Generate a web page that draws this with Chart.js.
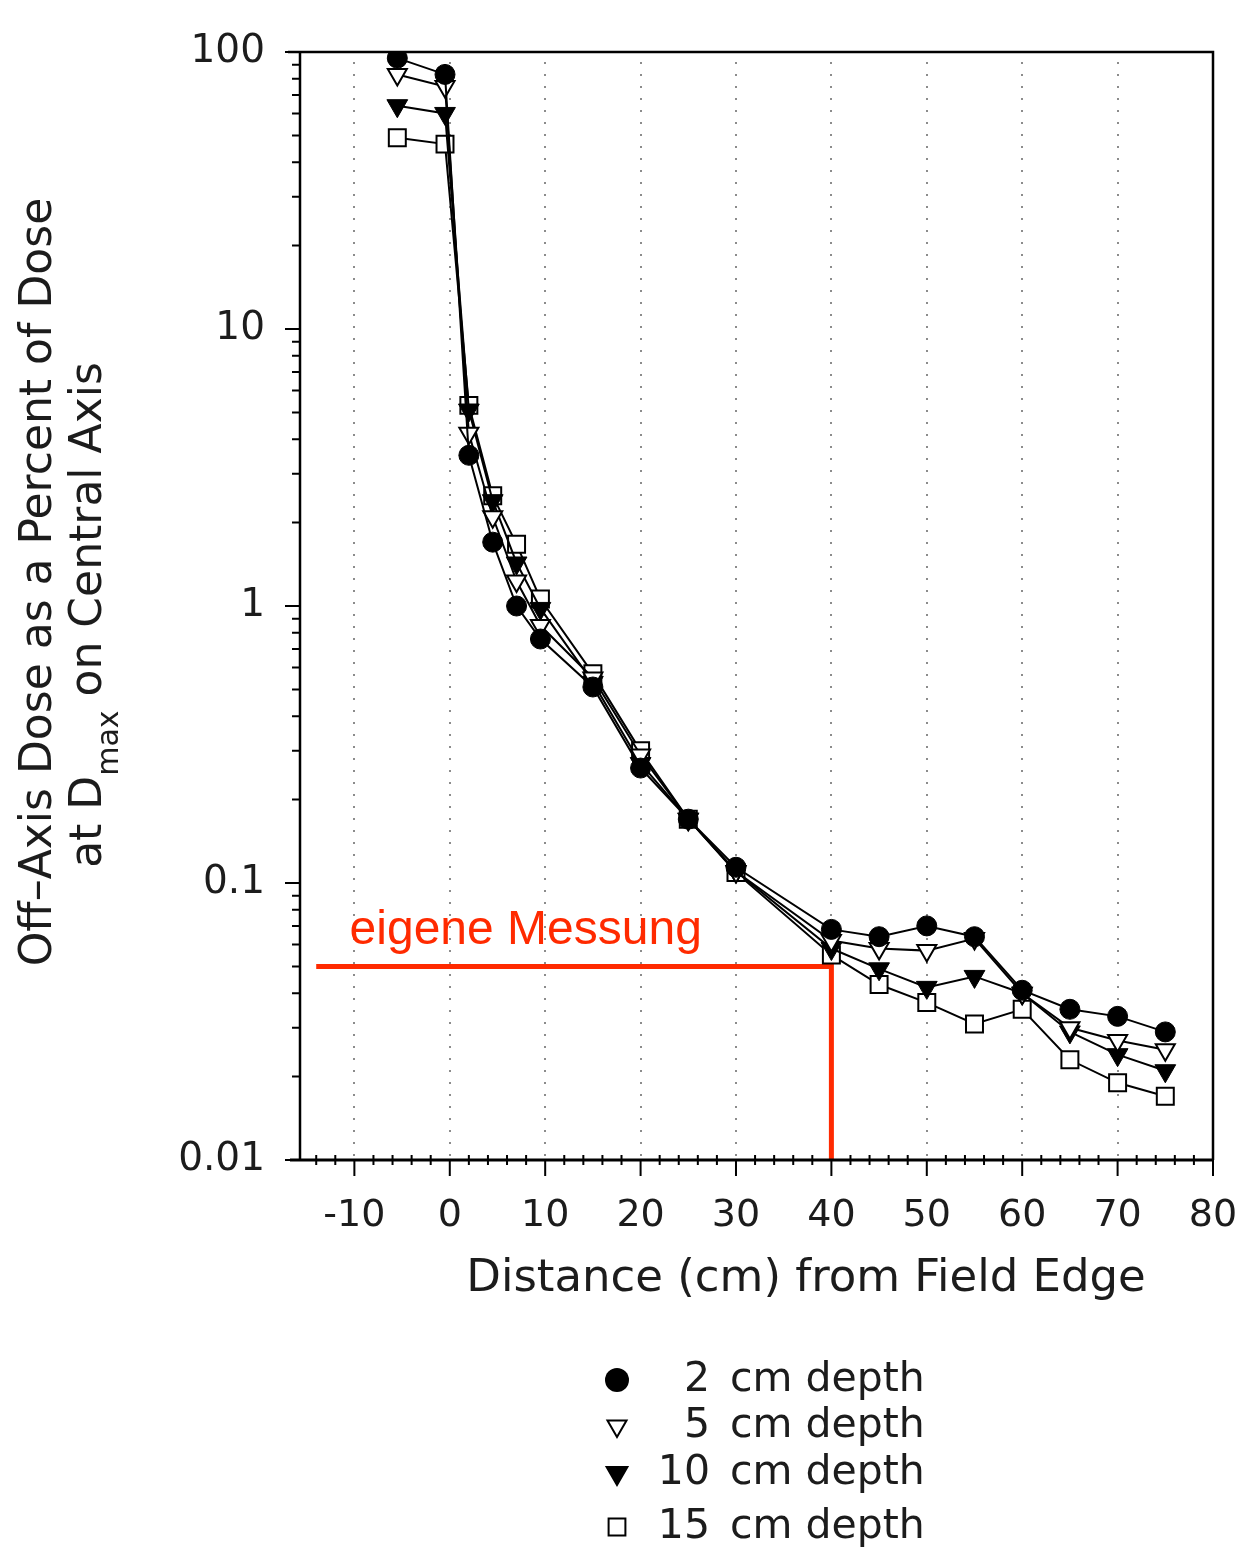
<!DOCTYPE html>
<html>
<head>
<meta charset="utf-8">
<title>Off-Axis Dose</title>
<script src="https://cdn.jsdelivr.net/npm/chart.js@4/dist/chart.umd.min.js"></script>
<style>
  html, body { margin: 0; padding: 0; background: #ffffff; }
  #wrap { width: 1241px; height: 1549px; }
</style>
</head>
<body>
<div id="wrap"><canvas id="doseChart"></canvas></div>
<script>
// ===== Data =====
const distance = [-5.5, -0.5, 2, 4.5, 7, 9.5, 15, 20, 25, 30, 40, 45, 50, 55, 60, 65, 70, 75];
const dose2cm  = [95, 83, 3.5, 1.7, 1.0, 0.76, 0.51, 0.26, 0.17, 0.114, 0.068, 0.064, 0.070, 0.064, 0.041, 0.035, 0.033, 0.029];
const dose5cm  = [83, 75, 4.2, 2.1, 1.23, 0.85, 0.55, 0.29, 0.17, 0.110, 0.062, 0.058, 0.057, 0.063, 0.040, 0.030, 0.027, 0.025];
const dose10cm = [64, 60, 5.1, 2.4, 1.43, 0.98, 0.53, 0.27, 0.17, 0.110, 0.058, 0.049, 0.042, 0.046, 0.040, 0.029, 0.024, 0.021];
const dose15cm = [49, 46.5, 5.3, 2.5, 1.67, 1.06, 0.57, 0.30, 0.17, 0.109, 0.055, 0.043, 0.037, 0.031, 0.035, 0.023, 0.019, 0.017];

const xTicks = [-10, 0, 10, 20, 30, 40, 50, 60, 70, 80];
const yDecades = [0.01, 0.1, 1, 10, 100];
const yTickLabels = ["0.01", "0.1", "1", "10", "100"];

const seriesNames = ["2 cm depth", "5 cm depth", "10 cm depth", "15 cm depth"];

// own measurement marker (red)
const ownX = [-14, 40, 40];
const ownY = [0.05, 0.05, 0.01];
const ownLabel = "eigene Messung";

const FONT = "'DejaVu Sans', 'Noto Sans', sans-serif";
const INK = "#1c1c1c";
const RED = "#ff2a00";

function pts(ys) {
    return ys.map((y, i) => ({ x: distance[i], y: y }));
}

function drawMarker(ctx, kind, x, y, r) {
    ctx.save();
    ctx.lineWidth = 2;
    ctx.strokeStyle = "#000";
    ctx.beginPath();
    if (kind === "circle") {
        ctx.arc(x, y, r, 0, Math.PI * 2);
        ctx.fillStyle = "#000";
        ctx.fill();
    } else if (kind === "openTri" || kind === "fillTri") {
        const h = r * 0.866;
        ctx.moveTo(x - h, y - r / 2);
        ctx.lineTo(x + h, y - r / 2);
        ctx.lineTo(x, y + r);
        ctx.closePath();
        ctx.fillStyle = kind === "fillTri" ? "#000" : "#fff";
        ctx.fill();
        ctx.stroke();
    } else {
        ctx.rect(x - r * 0.7, y - r * 0.7, r * 1.4, r * 1.4);
        ctx.fillStyle = "#fff";
        ctx.fill();
        ctx.stroke();
    }
    ctx.restore();
}

// ===== Dotted grid, frame, tick marks, titles, legend =====
const decorPlugin = {
    id: "decor",
    beforeDatasetsDraw(chart) {
        const ctx = chart.ctx;
        const a = chart.chartArea;
        const xs = chart.scales.x;
        ctx.save();
        ctx.strokeStyle = "rgba(0,0,0,0.45)";
        ctx.lineWidth = 2;
        ctx.setLineDash([2, 10]);
        ctx.beginPath();
        xTicks.forEach(v => {
            if (v === 80) return;
            const px = Math.round(xs.getPixelForValue(v));
            ctx.moveTo(px, a.top + 10);
            ctx.lineTo(px, a.bottom);
        });
        ctx.stroke();
        ctx.restore();
    },
    afterDraw(chart) {
        const ctx = chart.ctx;
        const a = chart.chartArea;
        const xs = chart.scales.x;
        const ys = chart.scales.y;

        ctx.save();
        ctx.strokeStyle = "#000";

        // frame
        ctx.lineWidth = 2.5;
        ctx.beginPath();
        ctx.moveTo(a.left - 12, a.top);
        ctx.lineTo(a.right, a.top);
        ctx.lineTo(a.right, a.bottom);
        ctx.moveTo(a.left, a.top);
        ctx.lineTo(a.left, a.bottom);
        ctx.stroke();
        ctx.lineWidth = 3;
        ctx.beginPath();
        ctx.moveTo(a.left - 10, a.bottom);
        ctx.lineTo(a.right, a.bottom);
        ctx.stroke();

        // y tick marks (log decades + minor)
        ctx.lineWidth = 2;
        ctx.beginPath();
        ys.ticks.forEach(t => {
            const py = ys.getPixelForValue(t.value);
            const len = t.major ? 15 : 8;
            ctx.moveTo(a.left - len, py);
            ctx.lineTo(a.left, py);
        });
        // x tick marks
        for (let v = -14; v <= 80; v += 2) {
            const px = xs.getPixelForValue(v);
            if (v % 10 === 0) {
                ctx.moveTo(px, a.bottom);
                ctx.lineTo(px, a.bottom + 16);
            } else {
                ctx.moveTo(px, a.bottom - 5);
                ctx.lineTo(px, a.bottom + 5);
            }
        }
        ctx.stroke();

        // x title
        ctx.fillStyle = INK;
        ctx.font = "45px " + FONT;
        ctx.textAlign = "center";
        ctx.textBaseline = "middle";
        ctx.fillText("Distance (cm) from Field Edge", 806, 1279);

        // y title, two lines rotated
        ctx.save();
        ctx.translate(40, 582);
        ctx.rotate(-Math.PI / 2);
        ctx.font = "44px " + FONT;
        ctx.textAlign = "center";
        ctx.textBaseline = "middle";
        ctx.fillText("Off\u2013Axis Dose as a Percent of Dose", 0, 0);
        ctx.restore();

        ctx.save();
        ctx.translate(90, 615);
        ctx.rotate(-Math.PI / 2);
        ctx.textBaseline = "middle";
        ctx.textAlign = "left";
        const p1 = "at D", p2 = "max", p3 = " on Central Axis";
        ctx.font = "44px " + FONT;
        const w1 = ctx.measureText(p1).width;
        const w3 = ctx.measureText(p3).width;
        ctx.font = "30px " + FONT;
        const w2 = ctx.measureText(p2).width;
        let cx = -(w1 + w2 + w3) / 2;
        ctx.font = "44px " + FONT;
        ctx.fillText(p1, cx, 0);
        cx += w1;
        ctx.font = "30px " + FONT;
        ctx.fillText(p2, cx, 20);
        cx += w2;
        ctx.font = "44px " + FONT;
        ctx.fillText(p3, cx, 0);
        ctx.restore();

        // red label
        ctx.fillStyle = RED;
        ctx.font = "48px 'Liberation Sans', Arial, sans-serif";
        ctx.textAlign = "left";
        ctx.textBaseline = "alphabetic";
        ctx.fillText(ownLabel, xs.getPixelForValue(-10.5), ys.getPixelForValue(0.06));

        // legend
        const kinds = ["circle", "openTri", "fillTri", "square"];
        const sizes = [12, 11, 12, 12];
        const rows = [1380, 1426, 1473, 1527];
        ctx.fillStyle = INK;
        ctx.font = "41px " + FONT;
        ctx.textBaseline = "middle";
        seriesNames.forEach((name, i) => {
            drawMarker(ctx, kinds[i], 617, rows[i], sizes[i]);
            const parts = name.split(" ");
            ctx.textAlign = "right";
            ctx.fillText(parts[0], 710, rows[i]);
            ctx.textAlign = "left";
            ctx.fillText(parts.slice(1).join(" "), 730, rows[i]);
        });

        ctx.restore();
    }
};

const yAllTicks = [];
yDecades.forEach((d, i) => {
    if (i === yDecades.length - 1) {
        yAllTicks.push({ value: d, major: true });
        return;
    }
    for (let m = 1; m <= 9; m++) {
        yAllTicks.push({ value: +(d * m).toPrecision(3), major: m === 1 });
    }
});

new Chart(document.getElementById("doseChart"), {
    type: "line",
    data: {
        datasets: [
            {
                label: seriesNames[0],
                data: pts(dose2cm),
                borderColor: "#000",
                borderWidth: 2,
                pointStyle: "circle",
                pointRadius: 10,
                pointBackgroundColor: "#000",
                pointBorderColor: "#000",
                pointBorderWidth: 1
            },
            {
                label: seriesNames[1],
                data: pts(dose5cm),
                borderColor: "#000",
                borderWidth: 2,
                pointStyle: "triangle",
                pointRotation: 180,
                pointRadius: 11,
                pointBackgroundColor: "#fff",
                pointBorderColor: "#000",
                pointBorderWidth: 2
            },
            {
                label: seriesNames[2],
                data: pts(dose10cm),
                borderColor: "#000",
                borderWidth: 2,
                pointStyle: "triangle",
                pointRotation: 180,
                pointRadius: 12,
                pointBackgroundColor: "#000",
                pointBorderColor: "#000",
                pointBorderWidth: 1
            },
            {
                label: seriesNames[3],
                data: pts(dose15cm),
                borderColor: "#000",
                borderWidth: 2,
                pointStyle: "rect",
                pointRadius: 12,
                pointBackgroundColor: "#fff",
                pointBorderColor: "#000",
                pointBorderWidth: 2
            },
            {
                label: ownLabel,
                data: ownX.map((x, i) => ({ x: x, y: ownY[i] })),
                borderColor: RED,
                borderWidth: 5,
                pointRadius: 0,
                clip: false
            }
        ]
    },
    options: {
        responsive: true,
        maintainAspectRatio: false,
        animation: false,
        layout: { padding: { top: 52, right: 28, bottom: 0, left: 0 } },
        plugins: {
            legend: { display: false },
            tooltip: { enabled: false }
        },
        scales: {
            x: {
                type: "linear",
                min: -15.7,
                max: 80,
                afterFit: s => { s.height = 389; s.paddingRight = 0; s.paddingLeft = 0; },
                afterBuildTicks: s => { s.ticks = xTicks.map(v => ({ value: v })); },
                border: { display: false },
                grid: { display: false, drawTicks: false },
                ticks: {
                    autoSkip: false,
                    maxRotation: 0,
                    padding: 33,
                    color: INK,
                    font: { family: FONT, size: 38 },
                    callback: v => String(v)
                }
            },
            y: {
                type: "logarithmic",
                min: 0.01,
                max: 100,
                afterFit: s => { s.width = 300; s.paddingTop = 0; s.paddingBottom = 0; },
                afterBuildTicks: s => { s.ticks = yAllTicks.map(t => ({ value: t.value, major: t.major })); },
                border: { display: false },
                grid: { display: false, drawTicks: false },
                ticks: {
                    autoSkip: false,
                    padding: 35,
                    color: INK,
                    font: { family: FONT, size: 39 },
                    callback: v => {
                        const i = yDecades.findIndex(d => Math.abs(d - v) < d * 1e-6);
                        return i >= 0 ? yTickLabels[i] : "";
                    }
                }
            }
        }
    },
    plugins: [decorPlugin]
});
</script>
</body>
</html>
